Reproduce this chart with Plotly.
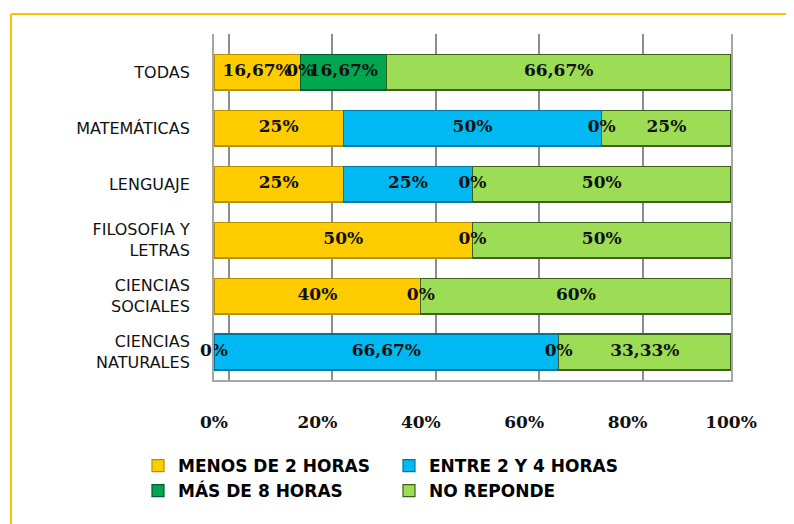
import plotly.graph_objects as go

# ── Data ──────────────────────────────────────────────────────────────────────
MATERIAS = [
    "CIENCIAS<br>NATURALES",
    "CIENCIAS<br>SOCIALES",
    "FILOSOFIA Y<br>LETRAS",
    "LENGUAJE",
    "MATEMÁTICAS",
    "TODAS",
]
MENOS_2_HORAS = [0, 40, 50, 25, 25, 16.67]
ENTRE_2_Y_4 = [66.67, None, None, 25, 50, 0]
MAS_8_HORAS = [0, 0, 0, 0, 0, 16.67]
NO_REPONDE = [33.33, 60, 50, 50, 25, 66.67]
X_TICKS = [0, 20, 40, 60, 80, 100]

SERIES = [
    ("MENOS DE 2 HORAS", MENOS_2_HORAS, "#FFCC00", "#B88F00"),
    ("ENTRE 2 Y 4 HORAS", ENTRE_2_Y_4, "#00B9F2", "#00769E"),
    ("MÁS DE 8 HORAS", MAS_8_HORAS, "#00A650", "#005C2C"),
    ("NO REPONDE", NO_REPONDE, "#9CDD55", "#3F5F20"),
]

# ── Layout geometry (page px; the page body adds an 8px margin) ─────────────
OFF = 8
W, H = 794 - OFF, 524 - OFF
ML, MR, MT, MB = 214 - OFF, 63, 34 - OFF, 144
PW, PH = W - ML - MR, H - MT - MB


def px_x(p):
    return (p - OFF - ML) / PW


def px_y(p):
    return (H - MB - (p - OFF)) / PH


def fmt(v):
    return f"{v:g}".replace(".", ",") + "%"


fig = go.Figure()

# empty trace so the offset "back wall" grid axis gets drawn
fig.add_trace(go.Scatter(x=[None], y=[MATERIAS[0]], xaxis="x2", mode="markers",
                         showlegend=False, hoverinfo="skip"))

for name, vals, colour, edge in SERIES:
    fig.add_trace(go.Bar(
        x=vals, y=MATERIAS, name=name, orientation="h",
        marker=dict(color=colour, line=dict(color=edge, width=1.2)),
        hoverinfo="skip",
    ))

# Data labels, centred in each segment (zero segments land on the boundary)
lx, ly, lt = [], [], []
for i, cat in enumerate(MATERIAS):
    left = 0
    for _, vals, _, _ in SERIES:
        v = vals[i]
        if v is None:
            continue
        lx.append(left + v / 2)
        ly.append(cat)
        lt.append(fmt(v))
        left += v
fig.add_trace(go.Scatter(
    x=lx, y=ly, text=lt, mode="text", showlegend=False,
    textfont=dict(family="DejaVu Serif", size=17, color="#111111", weight="bold"),
    cliponaxis=False, hoverinfo="skip",
))

fig.update_layout(
    width=W, height=H,
    barmode="stack",
    bargap=0.36,
    margin=dict(l=ML, r=MR, t=MT, b=MB, autoexpand=False),
    paper_bgcolor="white",
    plot_bgcolor="white",
    xaxis=dict(
        range=[0, 100], tickvals=X_TICKS, ticktext=[f"{t}%" for t in X_TICKS],
        showgrid=False, zeroline=False,
        showline=True, linecolor="#A6A6A6", linewidth=2,
        ticks="outside", ticklen=26, tickcolor="rgba(0,0,0,0)",
        tickfont=dict(family="DejaVu Serif", size=17, color="#111111", weight="bold"),
    ),
    xaxis2=dict(
        overlaying="x", range=[-2.9, 97.1], dtick=20,
        showgrid=True, gridcolor="#8C8C8C", gridwidth=2,
        showticklabels=False, zeroline=False, layer="below traces",
    ),
    yaxis=dict(
        type="category", categoryorder="array", categoryarray=MATERIAS,
        range=[-0.5, 5.68], showgrid=False,
        showline=True, mirror=True, linecolor="#A6A6A6", linewidth=2,
        ticks="outside", ticklen=19, tickcolor="rgba(0,0,0,0)",
        tickfont=dict(family="DejaVu Sans", size=16, color="#111111"),
    ),
    legend=dict(
        orientation="h", traceorder="normal",
        x=px_x(138), xanchor="left",
        y=px_y(448), yanchor="top",
        entrywidth=206,
        font=dict(family="DejaVu Sans", size=17, color="#000000", weight="bold"),
    ),
    shapes=[
        # yellow frame of the original box (top and left edges)
        dict(type="line", xref="paper", yref="paper",
             x0=px_x(11), x1=px_x(800), y0=px_y(14), y1=px_y(14),
             line=dict(color="#FFC000", width=2)),
        dict(type="line", xref="paper", yref="paper",
             x0=px_x(11), x1=px_x(11), y0=px_y(14), y1=px_y(530),
             line=dict(color="#FFC000", width=2)),
    ],
)

fig.write_html("out.html")
